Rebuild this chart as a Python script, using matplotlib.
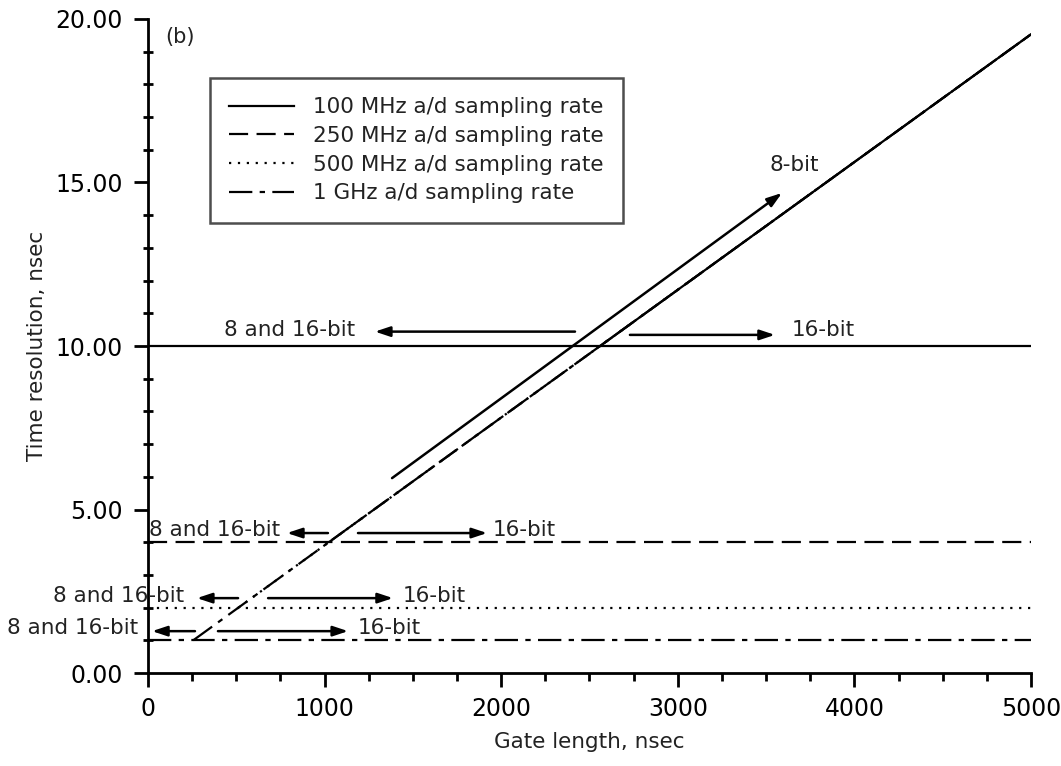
import matplotlib
matplotlib.use("Agg")
from matplotlib import pyplot as plt
import numpy as np

# sampling rates and their time resolution (nsec)
rate_labels = ["100 MHz a/d sampling rate", "250 MHz a/d sampling rate",
               "500 MHz a/d sampling rate", "1 GHz a/d sampling rate"]
resolution = [10.0, 4.0, 2.0, 1.0]
# 8-bit record: resolution = gate / 256
bits8_samples = 256
gate_max = 5000

# annotation rows (one per sampling rate)
row_text_y = [10.49, 4.37, 2.35, 1.38]
row_arrow_y = [10.44, 4.28, 2.29, 1.28]
row_right_arrow_y = [10.34, 4.28, 2.29, 1.28]
left_text_x = [1172, 747, 204, -57]
left_head_x = [1285, 787, 277, 23]
left_tail_x = [2418, 1019, 510, 266]
right_tail_x = [2729, 1189, 680, 396]
right_head_x = [3550, 1920, 1387, 1133]
right_text_x = [3647, 1950, 1444, 1189]

arrow8_tail = (1382, 5.96)
arrow8_head = (3590, 14.68)
text8_pos = (3522, 15.53)

lw = 1.6
styles = ["-", (0, (8.6, 3.8)), (0, (1, 3)), (0, (10.5, 3.3, 2.4, 3.3))]
txt_color = "#222222"


def run():
    fig = plt.figure(figsize=(10.61, 7.66), dpi=100)
    ax = fig.add_axes([0.1395, 0.1214, 0.8322, 0.8538])

    for res, lab, ls in zip(resolution, rate_labels, styles):
        ax.plot([0, gate_max], [res, res], color="black", lw=lw, ls=ls, label=lab)
        x0 = res * bits8_samples
        ax.plot([x0, gate_max], [x0 / bits8_samples, gate_max / bits8_samples],
                color="black", lw=lw, ls=ls)

    ax.set_xlim(0, gate_max)
    ax.set_ylim(0, 20)

    akw = dict(arrowstyle="-|>,head_length=0.9,head_width=0.3", color="black", lw=1.8,
               shrinkA=0, shrinkB=0)
    for i in range(len(row_text_y)):
        ax.annotate("", xy=(left_head_x[i], row_arrow_y[i]),
                    xytext=(left_tail_x[i], row_arrow_y[i]), arrowprops=akw,
                    annotation_clip=False)
        ax.annotate("", xy=(right_head_x[i], row_right_arrow_y[i]),
                    xytext=(right_tail_x[i], row_right_arrow_y[i]), arrowprops=akw,
                    annotation_clip=False)
        ax.text(left_text_x[i], row_text_y[i], "8 and 16-bit", ha="right", va="center",
                fontsize=15.5, color=txt_color)
        ax.text(right_text_x[i], row_text_y[i], "16-bit", ha="left", va="center",
                fontsize=15.5, color=txt_color)

    ax.annotate("", xy=arrow8_head, xytext=arrow8_tail, arrowprops=akw)
    ax.text(text8_pos[0], text8_pos[1], "8-bit", ha="left", va="center",
            fontsize=15.5, color=txt_color)

    ax.text(0.019, 0.972, "(b)", transform=ax.transAxes, ha="left", va="center",
            fontsize=15, color=txt_color)

    leg = ax.legend(loc="upper left", bbox_to_anchor=(0.0702, 0.9098), fontsize=15.5,
                    frameon=True, fancybox=False, edgecolor="#222222",
                    handlelength=3.0, handletextpad=0.9, labelspacing=0.4,
                    borderpad=0.9, borderaxespad=0)
    leg.get_frame().set_linewidth(1.8)
    for t in leg.get_texts():
        t.set_color(txt_color)

    for s in ["top", "right"]:
        ax.spines[s].set_visible(False)
    for s in ["left", "bottom"]:
        ax.spines[s].set_linewidth(2)

    ax.set_xticks(np.arange(0, 5001, 1000))
    ax.set_xticks(np.arange(0, 5001, 250), minor=True)
    ax.set_yticks(np.arange(0, 21, 5))
    ax.set_yticklabels([f"{v:.2f}" for v in np.arange(0, 21, 5)])
    ax.set_yticks(np.arange(0, 21, 1), minor=True)

    ax.tick_params(axis="x", which="major", direction="out", length=10, width=2,
                   labelsize=17, pad=7)
    ax.tick_params(axis="x", which="minor", direction="out", length=6, width=2)
    ax.tick_params(axis="y", which="major", direction="out", length=10, width=2,
                   labelsize=17, pad=8)
    ax.tick_params(axis="y", which="minor", direction="inout", length=7, width=2)

    ax.set_xlabel("Gate length, nsec", fontsize=15.5, labelpad=8, color=txt_color)
    ax.set_ylabel("Time resolution, nsec", fontsize=15.5, labelpad=6, color=txt_color)

    fig.savefig("out.png", dpi=100)


if __name__ == "__main__":
    run()
